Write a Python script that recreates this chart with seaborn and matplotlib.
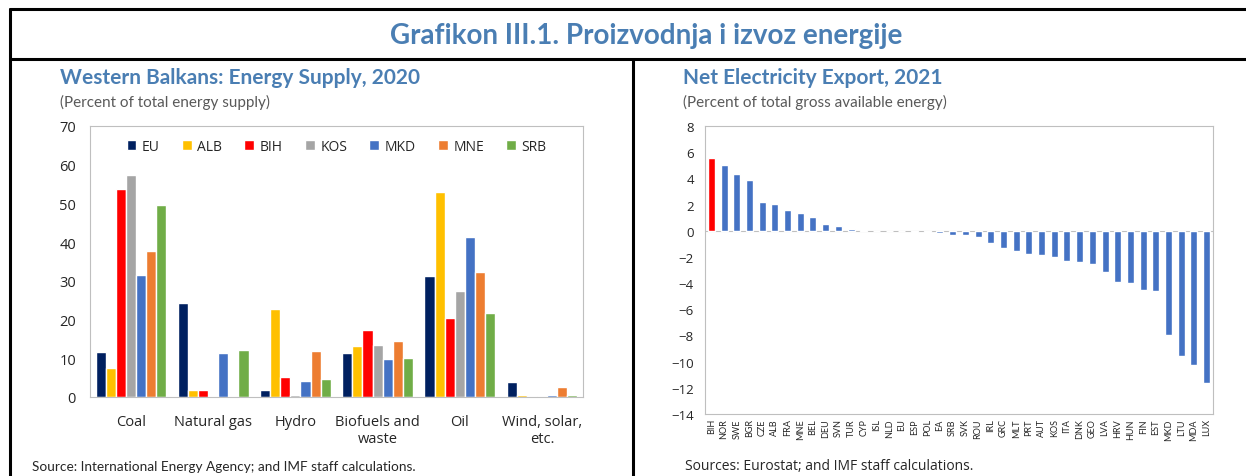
import matplotlib
matplotlib.use("Agg")
import matplotlib.pyplot as plt
import seaborn as sns
import pandas as pd
from matplotlib.lines import Line2D

# left panel data
sources = ["Coal", "Natural gas", "Hydro", "Biofuels and\nwaste", "Oil", "Wind, solar,\netc."]
countries = ["EU", "ALB", "BIH", "KOS", "MKD", "MNE", "SRB"]
eu = [11.7, 24.4, 1.9, 11.4, 31.3, 3.9]
alb = [7.4, 1.9, 22.8, 13.1, 52.9, 0.6]
bih = [53.8, 1.9, 5.1, 17.3, 20.5, 0.3]
kos = [57.3, 0.0, 0.6, 13.5, 27.4, 0.1]
mkd = [31.4, 11.4, 4.2, 9.7, 41.4, 0.4]
mne = [37.8, 0.0, 12.0, 14.4, 32.4, 2.5]
srb = [49.6, 12.2, 4.7, 10.1, 21.8, 0.4]
country_colors = ["#002060", "#FFC000", "#FF0000", "#A5A5A5", "#4472C4", "#ED7D31", "#70AD47"]

# right panel data
codes = ["BIH", "NOR", "SWE", "BGR", "CZE", "ALB", "FRA", "MNE", "BEL", "DEU",
         "SVN", "TUR", "CYP", "ISL", "NLD", "EU", "ESP", "POL", "EA", "SRB",
         "SVK", "ROU", "IRL", "GRC", "MLT", "PRT", "AUT", "KOS", "ITA", "DNK",
         "GEO", "LVA", "HRV", "HUN", "FIN", "EST", "MKD", "LTU", "MDA", "LUX"]
net_export = [5.57, 5.0, 4.37, 3.88, 2.22, 2.02, 1.59, 1.33, 1.05, 0.54,
              0.36, 0.13, 0.03, 0.01, 0.01, -0.03, -0.06, -0.09, -0.2, -0.33,
              -0.36, -0.5, -0.92, -1.3, -1.56, -1.81, -1.86, -1.99, -2.35, -2.4,
              -2.55, -3.14, -3.9, -4.03, -4.49, -4.62, -7.97, -9.55, -10.29, -11.62]

blue_title = "#4A7EB3"
grey_txt = "#595959"
spine_col = "#BFBFBF"

sns.set_theme(style="white")
plt.rcParams["font.family"] = ["Open Sans", "DejaVu Sans"]

W, H = 1246, 477
fig = plt.figure(figsize=(W / 100, H / 100), dpi=100)


def px_axes(x0, y0, x1, y1):
    return fig.add_axes([x0 / W, 1 - y1 / H, (x1 - x0) / W, (y1 - y0) / H])


# frame lines
frame = fig.add_axes([0, 0, 1, 1])
frame.set_xlim(0, W)
frame.set_ylim(H, 0)
frame.axis("off")
for seg in [((10, 1260), (10, 10)), ((10, 10), (10, 480)), ((10, 1260), (60, 60)), ((633, 633), (60, 480))]:
    frame.add_line(Line2D(seg[0], seg[1], color="black", lw=2.2))

fig.text(646 / W, 1 - 36 / H, "Grafikon III.1. Proizvodnja i izvoz energije", ha="center", va="center",
         fontsize=20, fontweight="bold", color=blue_title, family="Lato")

# ---- left panel
df = pd.DataFrame({"EU": eu, "ALB": alb, "BIH": bih, "KOS": kos, "MKD": mkd, "MNE": mne, "SRB": srb},
                  index=sources)
long = df.reset_index().melt(id_vars="index", var_name="country", value_name="share")
long = long.rename(columns={"index": "source"})

ax1 = px_axes(90, 127, 583, 398)
sns.barplot(data=long, x="source", y="share", hue="country", hue_order=countries,
            palette=country_colors, width=0.86, ax=ax1, saturation=1, errorbar=None)
ax1.set_ylim(0, 70)
ax1.set_xlim(-0.5, 5.5)
ax1.set_yticks(range(0, 71, 10))
ax1.set_xlabel("")
ax1.set_ylabel("")
ax1.tick_params(axis="y", labelsize=10.5, pad=10, length=0)
ax1.tick_params(axis="x", labelsize=10.5, pad=12, length=0)
for s in ax1.spines.values():
    s.set_color(spine_col)
    s.set_linewidth(0.8)
ax1.legend(ncol=7, loc="upper center", bbox_to_anchor=(0.5, 1.0), frameon=False, fontsize=10,
           handlelength=0.7, handleheight=0.7, handletextpad=0.4, columnspacing=1.6)

fig.text(60 / W, 1 - 78 / H, "Western Balkans: Energy Supply, 2020", ha="left", va="center",
         fontsize=15, fontweight="bold", color=blue_title, family="Lato")
fig.text(60 / W, 1 - 102 / H, "(Percent of total energy supply)", ha="left", va="center",
         fontsize=11, color=grey_txt, family="Lato")
fig.text(32 / W, 1 - 467 / H, "Source: International Energy Agency; and IMF staff calculations.",
         ha="left", va="center", fontsize=9.8, family="Lato")

# ---- right panel
ax2 = px_axes(705, 127, 1213, 415)
bar_cols = ["#FF0000"] + ["#4472C4"] * (len(codes) - 1)
sns.barplot(x=codes, y=net_export, hue=codes, palette=bar_cols, legend=False,
            width=0.55, ax=ax2, saturation=1)
ax2.set_ylim(-14, 8)
ax2.set_xlim(-0.5, len(codes) - 0.5)
ax2.set_yticks(range(-14, 9, 2))
ax2.axhline(0, color=spine_col, lw=0.8, zorder=0)
ax2.tick_params(axis="y", labelsize=9.5, pad=8, length=0)
ax2.tick_params(axis="x", labelsize=6.5, rotation=90, pad=3, length=0)
for lab in ax2.get_xticklabels():
    lab.set_family("Lato")
for s in ax2.spines.values():
    s.set_color(spine_col)
    s.set_linewidth(0.8)

fig.text(683 / W, 1 - 78 / H, "Net Electricity Export, 2021", ha="left", va="center",
         fontsize=15, fontweight="bold", color=blue_title, family="Lato")
fig.text(683 / W, 1 - 102 / H, "(Percent of total gross available energy)", ha="left", va="center",
         fontsize=11, color=grey_txt, family="Lato")
fig.text(685 / W, 1 - 467 / H, "Sources: Eurostat; and IMF staff calculations.",
         ha="left", va="center", fontsize=10)

fig.savefig("out.png", dpi=100)
